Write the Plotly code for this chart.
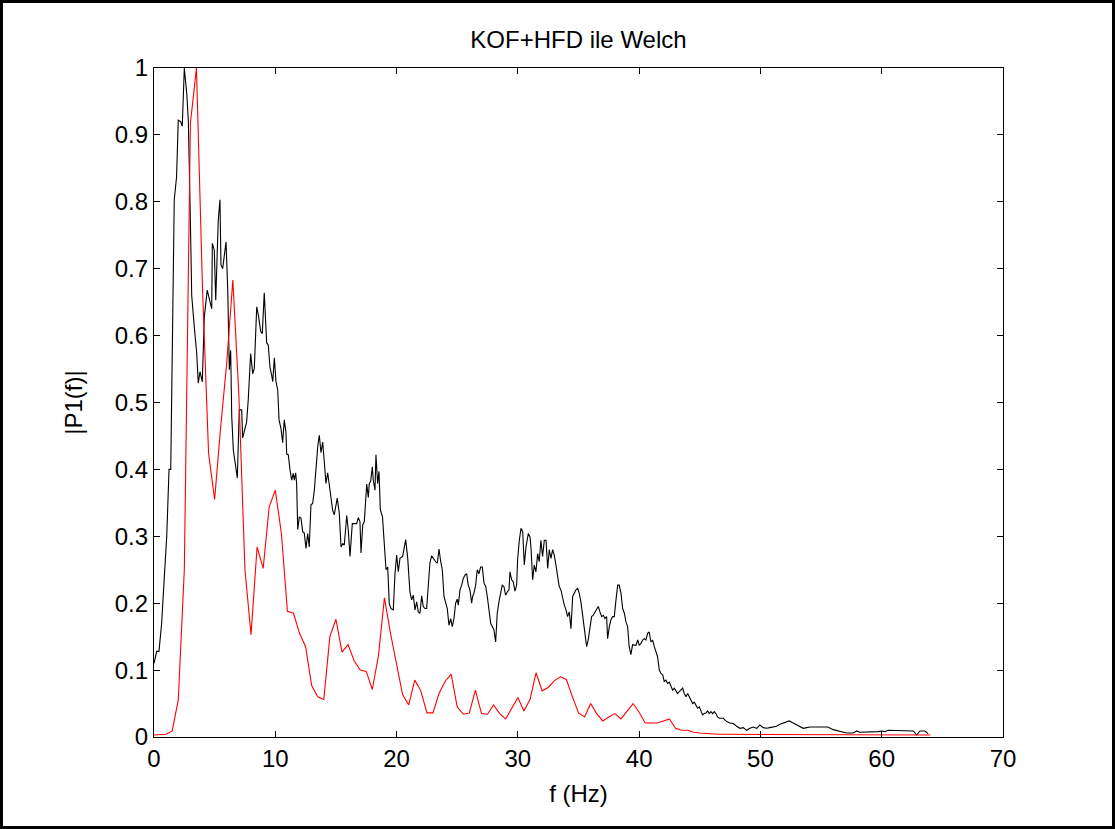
import plotly.graph_objects as go

# ---------------- data ----------------
title_text = "KOF+HFD ile Welch"
x_title = "f (Hz)"
y_title = "|P1(f)|"

x_tickvals = [0, 10, 20, 30, 40, 50, 60, 70]
x_ticktext = ["0", "10", "20", "30", "40", "50", "60", "70"]
y_tickvals = [0, 0.1, 0.2, 0.3, 0.4, 0.5, 0.6, 0.7, 0.8, 0.9, 1.0]
y_ticktext = ["0", "0.1", "0.2", "0.3", "0.4", "0.5", "0.6", "0.7", "0.8", "0.9", "1"]

# black series (fine resolution), frequency in Hz
black_f = [
    0.00, 0.22, 0.41, 0.63, 0.82, 1.05, 1.24, 1.38, 1.67, 1.86, 2.00, 2.20, 2.33, 2.50, 2.70, 2.83,
    2.97, 3.11, 3.32, 3.52, 3.65, 3.79, 3.98, 4.15, 4.39, 4.76, 4.81, 4.97, 5.09, 5.30, 5.44, 5.52,
    5.66, 5.80, 5.94, 6.08, 6.21, 6.32, 6.41, 6.54, 6.87, 7.03, 7.23, 7.31, 7.50, 7.64, 7.77, 7.97,
    8.14, 8.27, 8.47, 8.60, 8.80, 8.93, 9.09, 9.29, 9.42, 9.56, 9.70, 9.79, 9.92, 10.06, 10.20, 10.31,
    10.47, 10.61, 10.74, 10.88, 10.94, 11.07, 11.21, 11.35, 11.48, 11.57, 11.68, 11.76, 11.85, 11.98,
    12.12, 12.26, 12.39, 12.53, 12.67, 12.80, 12.94, 13.08, 13.22, 13.36, 13.50, 13.63, 13.77, 13.91,
    14.04, 14.18, 14.32, 14.45, 14.59, 14.73, 14.86, 15.00, 15.11, 15.28, 15.42, 15.56, 15.69, 15.89,
    16.02, 16.16, 16.35, 16.49, 16.71, 16.84, 16.98, 17.07, 17.21, 17.34, 17.48, 17.54, 17.67, 17.75,
    17.86, 18.00, 18.08, 18.22, 18.30, 18.44, 18.55, 18.66, 18.84, 18.99, 19.13, 19.27, 19.40, 19.54,
    19.73, 19.87, 20.01, 20.14, 20.28, 20.50, 20.61, 20.75, 20.92, 21.10, 21.24, 21.38, 21.52, 21.66,
    21.79, 21.93, 22.07, 22.20, 22.34, 22.48, 22.61, 22.75, 22.89, 23.03, 23.22, 23.36, 23.50, 23.64,
    23.77, 23.91, 24.05, 24.18, 24.32, 24.46, 24.59, 24.73, 24.87, 25.00, 25.09, 25.23, 25.37, 25.50,
    25.64, 25.78, 25.91, 26.05, 26.19, 26.27, 26.38, 26.52, 26.65, 26.79, 26.93, 27.07, 27.21, 27.35,
    27.48, 27.62, 27.76, 27.89, 28.03, 28.17, 28.30, 28.44, 28.58, 28.71, 28.85, 28.99, 29.13, 29.27,
    29.35, 29.49, 29.62, 29.76, 29.90, 29.98, 30.12, 30.26, 30.40, 30.53, 30.67, 30.86, 31.00, 31.08,
    31.22, 31.35, 31.49, 31.63, 31.76, 31.90, 32.04, 32.18, 32.32, 32.46, 32.59, 32.73, 32.87, 33.00,
    33.14, 33.28, 33.41, 33.55, 33.69, 33.83, 33.97, 34.10, 34.24, 34.38, 34.52, 34.65, 34.79, 34.93,
    35.06, 35.20, 35.39, 35.53, 35.67, 35.80, 35.94, 36.08, 36.22, 36.36, 36.50, 36.63, 36.77, 36.91,
    37.05, 37.18, 37.32, 37.40, 37.54, 37.67, 37.81, 37.95, 38.09, 38.23, 38.36, 38.50, 38.64, 38.78,
    38.91, 39.05, 39.18, 39.32, 39.46, 39.60, 39.74, 39.88, 40.01, 40.15, 40.29, 40.42, 40.56, 40.70,
    40.83, 40.97, 41.11, 41.25, 41.39, 41.52, 41.66, 41.80, 41.94, 42.07, 42.21, 42.35, 42.49, 42.62,
    42.76, 42.90, 43.03, 43.17, 43.31, 43.45, 43.59, 43.72, 43.86, 44.00, 44.13, 44.27, 44.41, 44.55,
    44.68, 44.82, 44.96, 45.10, 45.23, 45.37, 45.51, 45.65, 45.78, 45.92, 46.06, 46.19, 46.33, 46.47,
    46.61, 46.94, 47.21, 47.49, 47.76, 48.04, 48.31, 48.59, 48.86, 49.13, 49.41, 49.69, 49.96, 50.23,
    50.51, 50.78, 51.06, 51.33, 51.61, 51.88, 52.16, 52.37, 52.70, 52.98, 53.26, 53.53, 53.81, 54.08,
    54.58, 55.07, 55.56, 56.00, 56.55, 57.10, 57.65, 57.93, 58.20, 58.75, 59.30, 59.71, 59.99, 60.26,
    60.54, 60.95, 61.50, 62.05, 62.60, 62.88, 63.15, 63.56, 63.83,
]
black_v = [
    0.110, 0.128, 0.128, 0.170, 0.230, 0.300, 0.400, 0.400, 0.803, 0.837, 0.922, 0.920, 0.913, 1.000, 0.962, 0.922,
    0.800, 0.660, 0.613, 0.574, 0.529, 0.546, 0.531, 0.628, 0.668, 0.640, 0.738, 0.728, 0.653, 0.773, 0.803, 0.706,
    0.700, 0.723, 0.740, 0.668, 0.549, 0.578, 0.479, 0.429, 0.387, 0.489, 0.489, 0.447, 0.464, 0.471, 0.504, 0.573,
    0.543, 0.551, 0.643, 0.631, 0.606, 0.603, 0.664, 0.589, 0.586, 0.553, 0.541, 0.531, 0.567, 0.531, 0.519, 0.474,
    0.461, 0.440, 0.474, 0.455, 0.423, 0.422, 0.400, 0.384, 0.394, 0.384, 0.395, 0.379, 0.310, 0.329,
    0.327, 0.307, 0.305, 0.282, 0.304, 0.284, 0.347, 0.349, 0.369, 0.404, 0.434, 0.451, 0.425, 0.441,
    0.405, 0.379, 0.395, 0.377, 0.354, 0.339, 0.332, 0.344, 0.357, 0.334, 0.284, 0.289, 0.287, 0.331,
    0.309, 0.270, 0.319, 0.319, 0.319, 0.328, 0.322, 0.275, 0.317, 0.322, 0.359, 0.378, 0.358, 0.379,
    0.382, 0.404, 0.384, 0.369, 0.422, 0.379, 0.397, 0.340, 0.329, 0.289, 0.250, 0.254, 0.199, 0.192,
    0.190, 0.244, 0.272, 0.247, 0.267, 0.270, 0.284, 0.295, 0.267, 0.217, 0.205, 0.212, 0.190, 0.202,
    0.187, 0.185, 0.211, 0.195, 0.192, 0.192, 0.225, 0.260, 0.271, 0.267, 0.262, 0.260, 0.281, 0.262,
    0.250, 0.210, 0.200, 0.192, 0.167, 0.177, 0.165, 0.177, 0.200, 0.206, 0.197, 0.220, 0.227, 0.237,
    0.242, 0.244, 0.227, 0.220, 0.200, 0.210, 0.215, 0.227, 0.250, 0.244, 0.254, 0.254, 0.230, 0.225,
    0.210, 0.187, 0.170, 0.165, 0.160, 0.142, 0.185, 0.202, 0.215, 0.227, 0.225, 0.212, 0.217, 0.220,
    0.247, 0.235, 0.232, 0.218, 0.227, 0.265, 0.294, 0.312, 0.307, 0.257, 0.284, 0.304, 0.299, 0.284,
    0.235, 0.257, 0.247, 0.274, 0.262, 0.294, 0.270, 0.294, 0.294, 0.252, 0.280, 0.267, 0.280, 0.272,
    0.257, 0.240, 0.225, 0.220, 0.207, 0.197, 0.190, 0.180, 0.187, 0.162, 0.210, 0.215, 0.220, 0.222,
    0.215, 0.202, 0.175, 0.152, 0.135, 0.145, 0.167, 0.180, 0.182, 0.187, 0.192, 0.195, 0.187, 0.180,
    0.182, 0.177, 0.180, 0.147, 0.165, 0.175, 0.180, 0.180, 0.205, 0.227, 0.227, 0.215, 0.192, 0.185,
    0.172, 0.165, 0.135, 0.123, 0.138, 0.138, 0.137, 0.145, 0.137, 0.140, 0.145, 0.147, 0.145, 0.155,
    0.157, 0.142, 0.145, 0.135, 0.125, 0.120, 0.100, 0.095, 0.093, 0.083, 0.085, 0.080, 0.082, 0.075,
    0.070, 0.073, 0.069, 0.065, 0.068, 0.070, 0.073, 0.065, 0.060, 0.065, 0.060, 0.057, 0.050, 0.052,
    0.048, 0.043, 0.045, 0.038, 0.033, 0.035, 0.036, 0.039, 0.035, 0.038, 0.035, 0.038, 0.035, 0.030,
    0.028, 0.028, 0.023, 0.021, 0.020, 0.016, 0.013, 0.014, 0.010, 0.013, 0.015, 0.013, 0.018, 0.014,
    0.013, 0.014, 0.015, 0.016, 0.019, 0.021, 0.023, 0.024, 0.021, 0.018, 0.016, 0.013, 0.014, 0.015,
    0.015, 0.015, 0.015, 0.011, 0.009, 0.006, 0.006, 0.009, 0.007, 0.007, 0.007, 0.008, 0.009, 0.008,
    0.010, 0.010, 0.010, 0.010, 0.009, 0.003, 0.009, 0.009, 0.005,
]

# red series (0.5 Hz bins, 0 .. 64 Hz)
red_f = [0.5 * k for k in range(129)]
red_v = [
    0.003, 0.004, 0.004, 0.009, 0.055, 0.250, 0.917, 1.000, 0.670, 0.424,
    0.355, 0.464, 0.560, 0.683, 0.510, 0.250, 0.153, 0.284, 0.252, 0.344,
    0.369, 0.305, 0.188, 0.185, 0.155, 0.135, 0.077, 0.060, 0.056, 0.150,
    0.176, 0.127, 0.138, 0.114, 0.100, 0.098, 0.071, 0.121, 0.208, 0.155,
    0.110, 0.063, 0.048, 0.085, 0.069, 0.036, 0.036, 0.065, 0.083, 0.094,
    0.045, 0.034, 0.036, 0.070, 0.035, 0.034, 0.048, 0.035, 0.027, 0.043,
    0.059, 0.039, 0.056, 0.096, 0.069, 0.074, 0.084, 0.090, 0.086, 0.060,
    0.036, 0.030, 0.050, 0.035, 0.024, 0.030, 0.035, 0.027, 0.039, 0.050,
    0.037, 0.021, 0.021, 0.021, 0.024, 0.027, 0.013, 0.010, 0.010, 0.007,
    0.006, 0.005, 0.004, 0.004, 0.004, 0.004, 0.004, 0.004, 0.004, 0.004,
    0.004, 0.004, 0.004, 0.004, 0.004, 0.004, 0.004, 0.004, 0.004, 0.004,
    0.004, 0.003, 0.003, 0.003, 0.003, 0.003, 0.003, 0.003, 0.003, 0.003,
    0.003, 0.003, 0.003, 0.003, 0.003, 0.003, 0.003, 0.003, 0.003,
]

# ---------------- figure ----------------
FONT = "Liberation Sans, Arial, sans-serif"
FS = 24
W, H = 1115, 829
ML, MR, MT, MB = 154, 112, 68, 92

fig = go.Figure()
fig.add_trace(go.Scatter(x=black_f, y=black_v, mode="lines",
                         line=dict(color="black", width=1.1), showlegend=False, hoverinfo="skip"))
fig.add_trace(go.Scatter(x=red_f, y=red_v, mode="lines",
                         line=dict(color="#ff0000", width=1.1), showlegend=False, hoverinfo="skip"))

axis_common = dict(showline=True, linecolor="black", linewidth=1.3, mirror="ticks",
                   ticks="inside", ticklen=6, tickwidth=1.4, tickcolor="black",
                   showgrid=False, zeroline=False,
                   tickfont=dict(family=FONT, size=FS, color="black"))

fig.update_layout(
    width=W, height=H,
    margin=dict(l=ML, r=MR, t=MT, b=MB),
    paper_bgcolor="white", plot_bgcolor="white",
    title=dict(text=title_text, x=0.5, xref="paper", y=1 - 40 / H, yanchor="middle",
               font=dict(family=FONT, size=FS, color="black")),
    xaxis=dict(range=[0, 70], tickvals=x_tickvals, ticktext=x_ticktext,
               title=dict(text=x_title, font=dict(family=FONT, size=FS, color="black"), standoff=14),
               **axis_common),
    yaxis=dict(range=[0, 1], tickvals=y_tickvals, ticktext=y_ticktext,
               title=dict(text=y_title, font=dict(family=FONT, size=FS, color="black"), standoff=25),
               **axis_common),
)

# outer frame around the whole image
pw, ph = W - ML - MR, H - MT - MB
fig.add_shape(type="rect", xref="paper", yref="paper",
              x0=(1.5 - ML) / pw, x1=(W - 1.5 - ML) / pw,
              y0=-(H - 1.5 - MT - ph) / ph, y1=(H - 1.5 - MB) / ph,
              line=dict(color="black", width=3), fillcolor="rgba(0,0,0,0)", layer="above")

fig.write_html("out.html")
